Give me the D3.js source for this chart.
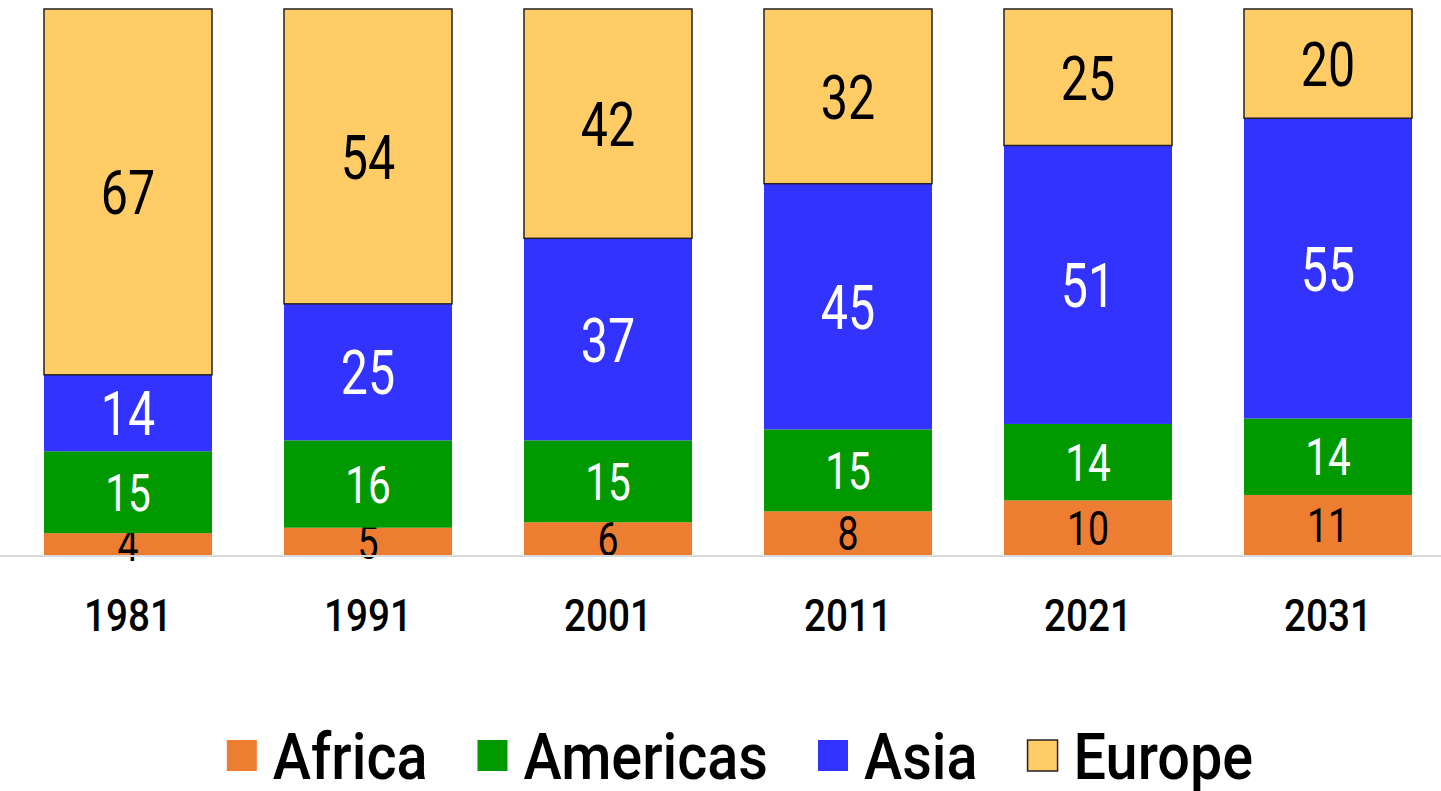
<!DOCTYPE html>
<html>
<head>
<meta charset="utf-8">
<script src="https://cdn.jsdelivr.net/npm/d3@7"></script>
<style>
  html, body { margin: 0; padding: 0; background: #fff; }
  svg { display: block; font-family: Roboto, "Liberation Sans", sans-serif; }
</style>
</head>
<body>
<svg id="chart" width="1441" height="791"></svg>
<script>
// data (percent shares by region)
var years = ["1981", "1991", "2001", "2011", "2021", "2031"];
var regions = ["Africa", "Americas", "Asia", "Europe"];
var africa = [4, 5, 6, 8, 10, 11];
var americas = [15, 16, 15, 15, 14, 14];
var asia = [14, 25, 37, 45, 51, 55];
var europe = [67, 54, 42, 32, 25, 20];

var colors = { Africa: "#ED7D31", Americas: "#009900", Asia: "#3333FF", Europe: "#FFCC66" };
var labelColors = { Africa: "#000", Americas: "#fff", Asia: "#fff", Europe: "#000" };
var labelSizes = { Africa: 48, Americas: 52, Asia: 62, Europe: 62 };
var narrow = 0.78;      // squeeze bar labels to look condensed
var narrowAxis = 0.86;
var narrowLegend = 0.9;

var rows = years.map(function (y, i) {
  return { year: y, Africa: africa[i], Americas: americas[i], Asia: asia[i], Europe: europe[i] };
});

var svg = d3.select("#chart");

var x = d3.scaleBand()
    .domain(years)
    .range([8, 1448])
    .paddingInner(0.3)
    .paddingOuter(0.15);

var y = d3.scaleLinear()
    .domain([0, 100])
    .range([555, 9]);

var series = d3.stack().keys(regions)(rows);

var layer = svg.selectAll(".layer")
    .data(series)
  .enter().append("g")
    .attr("class", "layer");

layer.selectAll("rect")
    .data(function (d) { return d.map(function (p) { p.key = d.key; return p; }); })
  .enter().append("rect")
    .attr("x", function (d) { return x(d.data.year); })
    .attr("y", function (d) { return y(d[1]); })
    .attr("width", x.bandwidth())
    .attr("height", function (d) { return y(d[0]) - y(d[1]); })
    .attr("fill", function (d) { return colors[d.key]; })
    .attr("stroke", function (d) { return d.key === "Europe" ? "#222" : "none"; })
    .attr("stroke-width", 1.5);

// baseline
svg.append("line")
    .attr("x1", 0).attr("x2", 1441)
    .attr("y1", y(0) + 1).attr("y2", y(0) + 1)
    .attr("stroke", "#d9d9d9")
    .attr("stroke-width", 2);

// value labels
layer.selectAll("text")
    .data(function (d) { return d; })
  .enter().append("text")
    .attr("transform", function (d) {
      var cx = x(d.data.year) + x.bandwidth() / 2;
      var cy = (y(d[0]) + y(d[1])) / 2;
      return "translate(" + cx + "," + cy + ") scale(" + narrow + ",1)";
    })
    .attr("dy", "0.36em")
    .attr("text-anchor", "middle")
    .attr("fill", function (d) { return labelColors[d.key]; })
    .attr("font-size", function (d) { return labelSizes[d.key]; })
    .text(function (d) { return d[1] - d[0]; });

// x axis labels
var xAxis = svg.append("g")
    .attr("transform", "translate(0," + y(0) + ")")
    .call(d3.axisBottom(x).tickSize(0).tickPadding(44));
xAxis.attr("font-family", null).attr("font-size", null);
xAxis.select(".domain").remove();
xAxis.selectAll("text")
    .attr("font-size", 45)
    .attr("font-weight", 500)
    .attr("fill", "#000")
    .attr("transform", "scale(" + narrowAxis + ",1)");

// legend
var legend = svg.append("g").attr("class", "legend");
var items = legend.selectAll("g")
    .data(regions)
  .enter().append("g");

items.append("rect")
    .attr("width", 30).attr("height", 31)
    .attr("y", -16)
    .attr("fill", function (d) { return colors[d]; })
    .attr("stroke", function (d) { return d === "Europe" ? "#222" : "none"; })
    .attr("stroke-width", 1.5);

items.append("text")
    .attr("transform", "translate(46,0) scale(" + narrowLegend + ",1)")
    .attr("dy", "0.36em")
    .attr("font-size", 64)
    .attr("font-weight", 500)
    .attr("fill", "#000")
    .text(function (d) { return d; });

var pos = 0, offsets = [];
items.each(function () {
  offsets.push(pos);
  var w = d3.select(this).select("text").node().getComputedTextLength() * narrowLegend;
  pos += 46 + w + 50;
});
var total = pos - 50;
var startX = 740 - total / 2;
items.attr("transform", function (d, i) { return "translate(" + (startX + offsets[i]) + ",756)"; });
</script>
</body>
</html>
